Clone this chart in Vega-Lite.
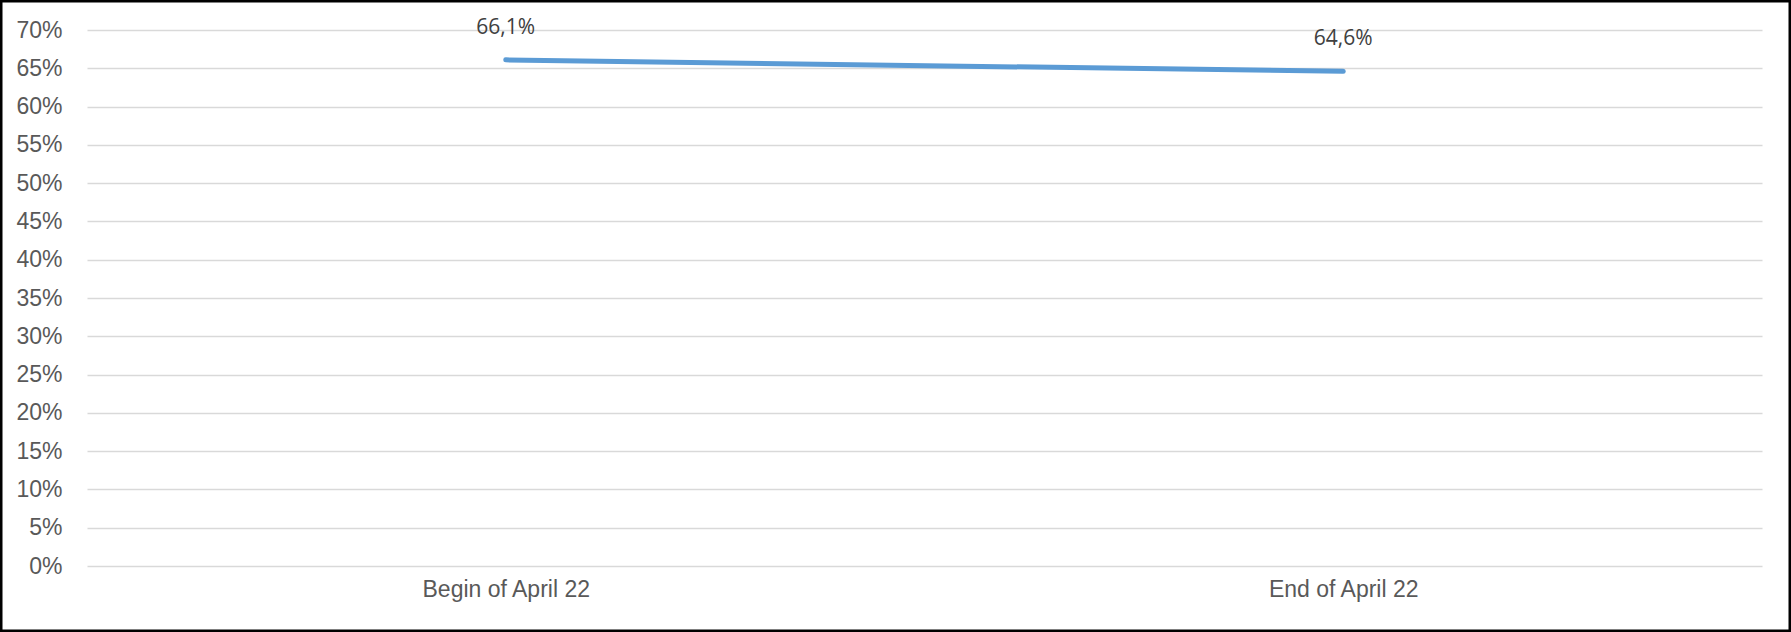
{
  "$schema": "https://vega.github.io/schema/vega-lite/v6.json",
  "width": 1791,
  "height": 632,
  "autosize": {"type": "none"},
  "padding": 0,
  "background": "white",
  "config": {
    "view": {"stroke": "black", "strokeWidth": 5, "fill": "white"},
    "locale": {"number": {"decimal": ",", "thousands": ".", "grouping": [3], "currency": ["", " €"]}}
  },
  "data": {
    "values": [
      {"period": "Begin of April 22", "share": 0.661},
      {"period": "End of April 22", "share": 0.646}
    ]
  },
  "encoding": {
    "x": {
      "field": "period",
      "type": "nominal",
      "sort": null,
      "scale": {"type": "point", "range": [87, 1762], "padding": 0.5},
      "axis": {
        "title": null,
        "orient": "bottom",
        "offset": -66,
        "domain": false,
        "ticks": false,
        "tickSize": 0,
        "labelPadding": 30,
        "labelBaseline": "alphabetic",
        "labelAngle": 0,
        "labelLimit": 0,
        "labelFont": "Liberation Sans",
        "labelFontSize": 23,
        "labelColor": "#595959",
        "grid": false
      }
    },
    "y": {
      "field": "share",
      "type": "quantitative",
      "scale": {"domain": [0, 0.7], "range": [566, 30], "nice": false, "zero": true},
      "axis": {
        "title": null,
        "orient": "left",
        "offset": -87,
        "values": [0, 0.05, 0.1, 0.15, 0.2, 0.25, 0.3, 0.35, 0.4, 0.45, 0.5, 0.55, 0.6, 0.65, 0.7],
        "format": ".0%",
        "domain": false,
        "ticks": false,
        "tickSize": 0,
        "labelPadding": 25,
        "labelFont": "Liberation Sans",
        "labelFontSize": 23,
        "labelColor": "#595959",
        "grid": true,
        "gridColor": "#D9D9D9",
        "gridWidth": 1.5
      }
    }
  },
  "layer": [
    {
      "mark": {"type": "line", "color": "#5B9BD5", "strokeWidth": 5, "strokeCap": "round"}
    },
    {
      "mark": {
        "type": "text",
        "font": "Open Sans",
        "fontSize": 21,
        "color": "#404040",
        "baseline": "alphabetic",
        "align": "center",
        "dy": -26
      },
      "encoding": {
        "text": {"field": "share", "type": "quantitative", "format": ".1%"}
      }
    }
  ]
}
